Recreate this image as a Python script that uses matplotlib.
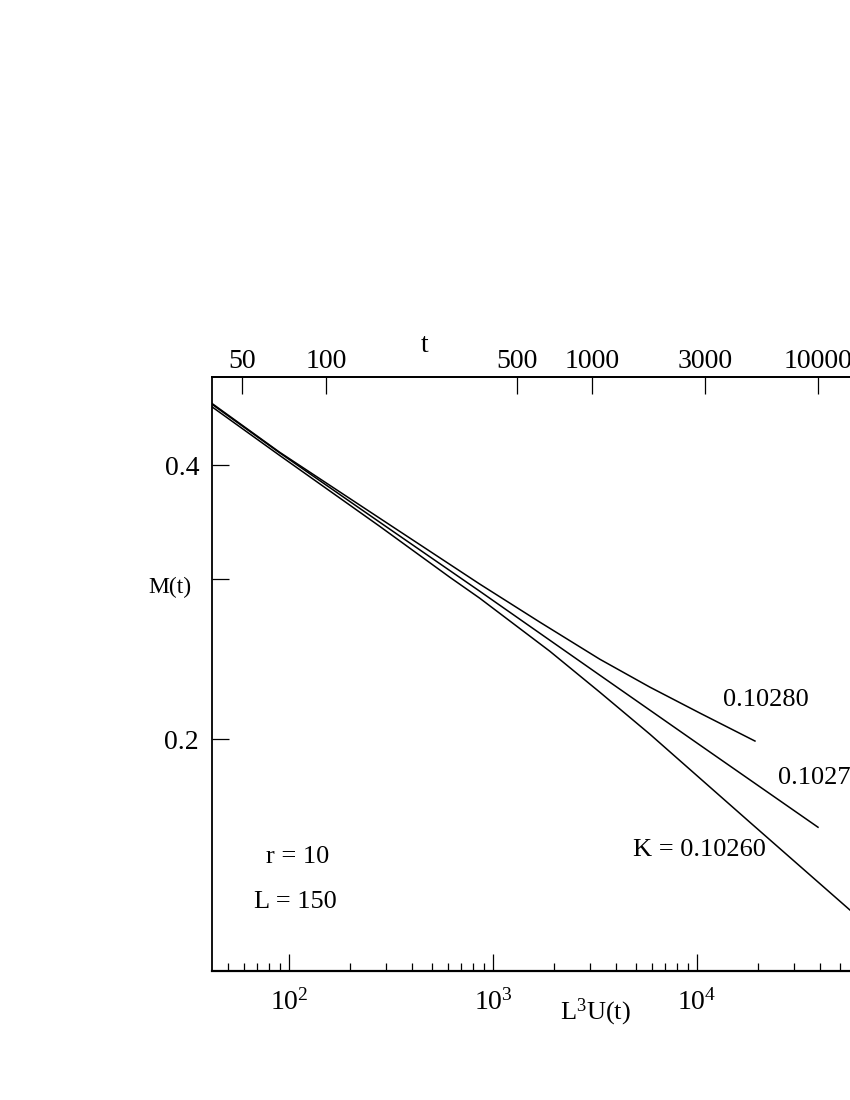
import matplotlib
matplotlib.use("Agg")
import matplotlib.pyplot as plt
from matplotlib.ticker import FixedLocator, LogLocator, NullLocator, LogFormatterMathtext

plt.rcParams.update(
    {
        "font.family": ["Liberation Serif", "DejaVu Serif"],
        "mathtext.fontset": "custom",
        "mathtext.rm": "Liberation Serif",
        "mathtext.it": "Liberation Serif:italic",
        "axes.linewidth": 1.3,
    }
)

# M(t) against L^3 U(t), one curve per coupling K
u_k10260 = [41.7, 89.8, 278, 613, 860, 1898, 3337, 5873, 18180, 60000]
m_k10260 = [0.464, 0.4101, 0.3427, 0.3013, 0.2857, 0.2498, 0.2252, 0.2025, 0.1620, 0.1281]

u_k10270 = [41.7, 89.8, 278, 860, 3337, 10330, 39200]
m_k10270 = [0.467, 0.4128, 0.3463, 0.2908, 0.2351, 0.1970, 0.1600]

u_k10280 = [41.7, 89.8, 278, 860, 1695, 3337, 5873, 10330, 19240]
m_k10280 = [0.468, 0.4134, 0.3498, 0.2961, 0.2689, 0.2448, 0.2281, 0.2136, 0.1990]

# top axis: t values and where they fall on the L^3 U(t) scale
t_labels = ["50", "100", "500", "1000", "3000", "10000"]
t_at_u = [58.7, 152.6, 1310, 3070, 10940, 39060]

y_ticks = [0.2, 0.3, 0.4]
y_labels = ["0.2", "", "0.4"]

fig = plt.figure(figsize=(8.5, 11), dpi=100)
fig.patch.set_facecolor("white")
# the axes run past the right edge of the page, as in the cropped original
ax = fig.add_axes([0.2489, 0.11727, 0.7878, 0.54])

for u, m in ((u_k10260, m_k10260), (u_k10270, m_k10270), (u_k10280, m_k10280)):
    ax.plot(u, m, color="black", linewidth=1.1)

ax.set_xscale("log")
ax.set_yscale("log")
ax.set_xlim(41.7, 8e4)
ax.set_ylim(0.1112, 0.5)

ax.xaxis.set_major_locator(LogLocator(base=10))
ax.xaxis.set_minor_locator(LogLocator(base=10, subs=range(2, 10)))
ax.xaxis.set_major_formatter(LogFormatterMathtext())
ax.yaxis.set_major_locator(FixedLocator(y_ticks))
ax.yaxis.set_minor_locator(NullLocator())
ax.set_yticklabels(y_labels)

ax.tick_params(axis="both", which="major", direction="in", length=12, width=0.9,
               labelsize=20, top=False, right=False)
ax.tick_params(axis="x", which="major", pad=13)
ax.tick_params(axis="y", which="major", pad=9)
ax.tick_params(axis="x", which="minor", direction="in", length=6, width=0.9, top=False)
ax.spines["bottom"].set_linewidth(1.6)

top = ax.twiny()
top.set_xscale("log")
top.set_xlim(ax.get_xlim())
top.xaxis.set_major_locator(FixedLocator(t_at_u))
top.xaxis.set_minor_locator(NullLocator())
top.set_xticklabels(t_labels)
top.tick_params(axis="x", which="major", direction="in", length=12, width=0.9,
                labelsize=20, pad=2)
for side in ("bottom", "left", "right"):
    top.spines[side].set_visible(False)

# curve labels and run parameters
ax.text(21800, 0.2207, "0.10280", fontsize=19, ha="center", va="center")
ax.text(24950, 0.1812, "0.10270", fontsize=19, ha="left", va="center")
ax.text(4850, 0.151, "K = 0.10260", fontsize=19, ha="left", va="center")
ax.text(0.128, 0.192, "r = 10", fontsize=19, ha="center", va="center", transform=ax.transAxes)
ax.text(0.125, 0.116, "L = 150", fontsize=19, ha="center", va="center", transform=ax.transAxes)

fig.text(0.5, 0.6855, "t", fontsize=20, ha="center", va="center")
fig.text(0.70, 0.0795, r"L$^{\mathregular{3}}$U(t)", fontsize=19, ha="center", va="center")
fig.text(0.20, 0.4655, "M(t)", fontsize=17, ha="center", va="center")

fig.savefig("out.png", dpi=100)
plt.close(fig)
